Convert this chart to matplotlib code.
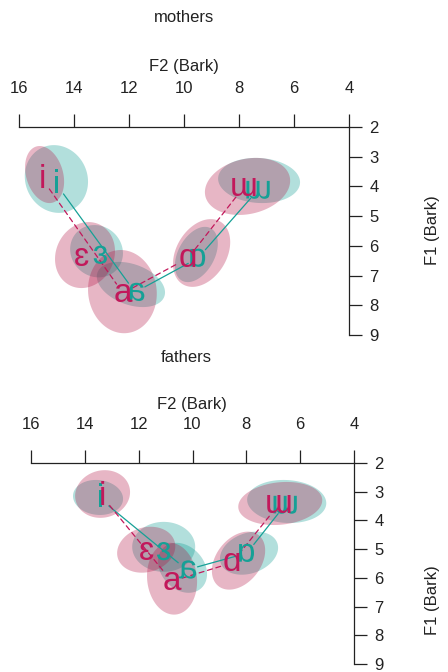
import numpy as np
import matplotlib
matplotlib.use("Agg")
import matplotlib.pyplot as plt
from matplotlib import patheffects
from matplotlib.transforms import Affine2D

plt.rcParams['font.family'] = ['Liberation Sans', 'DejaVu Sans']

# ---------------- data ----------------
vowels = ['i', 'ɛ', 'a', 'ɑ', 'ɯ']
polygon_order = ['i', 'a', 'ɑ', 'ɯ']
x_ticks = [16, 14, 12, 10, 8, 6, 4]
y_ticks = [2, 3, 4, 5, 6, 7, 8, 9]

# mothers: group 1 (magenta) / group 2 (teal)
m1_f2 = [15.13, 13.71, 12.22, 9.85, 7.85]
m1_f1 = [3.78, 6.38, 7.59, 6.41, 4.05]
m2_f2 = [14.62, 13.05, 11.78, 9.49, 7.31]
m2_f1 = [3.95, 6.31, 7.56, 6.41, 4.12]
# ellipses: centre F2, centre F1, half-width F2, half-height F1, correlation
m1_ell_cx = [15.07, 13.60, 12.24, 9.36, 7.69]
m1_ell_cy = [3.60, 6.31, 7.54, 6.24, 4.00]
m1_ell_sx = [0.71, 1.09, 1.25, 1.04, 1.55]
m1_ell_sy = [0.96, 1.11, 1.40, 1.14, 0.96]
m1_ell_r = [-0.25, 0.12, -0.05, 0.32, 0.2]
m2_ell_cx = [14.64, 13.18, 11.93, 9.55, 7.27]
m2_ell_cy = [3.75, 6.18, 7.30, 6.29, 3.80]
m2_ell_sx = [1.15, 0.96, 1.24, 0.78, 1.49]
m2_ell_sy = [1.14, 0.88, 0.76, 0.93, 0.76]
m2_ell_r = [-0.08, -0.08, -0.35, 0.4, -0.08]

# fathers
f1_f2 = [13.34, 11.70, 10.77, 8.54, 6.81]
f1_f1 = [3.18, 5.08, 6.12, 5.48, 3.46]
f2_f2 = [13.43, 11.08, 10.21, 7.98, 6.56]
f2_f1 = [3.25, 5.08, 5.72, 5.14, 3.46]
f1_ell_cx = [13.34, 11.72, 10.76, 8.29, 6.74]
f1_ell_cy = [3.08, 5.02, 6.03, 5.40, 3.41]
f1_ell_sx = [1.02, 1.08, 0.93, 0.99, 1.56]
f1_ell_sy = [0.83, 0.80, 1.25, 1.01, 0.75]
f1_ell_r = [0.08, 0.15, -0.08, 0.35, 0.15]
f2_ell_cx = [13.51, 11.07, 10.37, 7.90, 6.50]
f2_ell_cy = [3.20, 4.92, 5.65, 5.14, 3.34]
f2_ell_sx = [0.93, 1.17, 0.91, 1.08, 1.47]
f2_ell_sy = [0.61, 0.87, 0.87, 0.75, 0.75]
f2_ell_r = [-0.08, 0.0, -0.25, 0.25, -0.08]

PINK = '#C2185B'
TEAL = '#16A096'
PINK_FILL = '#B20F41'
TEAL_FILL = '#00968C'


class Mirror(patheffects.AbstractPathEffect):
    """Mirror glyphs horizontally about their own centre."""
    def draw_path(self, renderer, gc, tpath, affine, rgbFace=None):
        ext = tpath.get_extents(affine)
        cx = 0.5 * (ext.x0 + ext.x1)
        m = affine + Affine2D().translate(-cx, 0).scale(-1, 1).translate(cx, 0)
        renderer.draw_path(gc, tpath, m, rgbFace)


def ellipse(ax, cx, cy, sx, sy, r, color):
    t = np.linspace(0, 2 * np.pi, 240)
    x = cx + sx * np.cos(t)
    y = cy + sy * (r * np.cos(t) + np.sqrt(1 - r * r) * np.sin(t))
    ax.fill(x, y, color=color, alpha=0.3, lw=0, zorder=1, clip_on=False)


def panel(ax, g1, g2):
    ax.set_xlim(16, 4)
    ax.set_ylim(9, 2)
    for s in ['left', 'bottom']:
        ax.spines[s].set_visible(False)
    for s in ['top', 'right']:
        ax.spines[s].set_linewidth(0.9)
        ax.spines[s].set_color('#222222')
    ax.xaxis.tick_top()
    ax.yaxis.tick_right()
    ax.set_xticks(x_ticks)
    ax.set_yticks(y_ticks)
    ax.tick_params(axis='x', direction='out', length=9.5, width=0.9, pad=13,
                   labelsize=12, colors='#222222')
    ax.tick_params(axis='y', direction='out', length=9.5, width=0.9, pad=5,
                   labelsize=12, colors='#222222')
    ax.patch.set_visible(False)

    # ellipses: teal first, magenta on top
    for (f2, f1, ecx, ecy, esx, esy, er, col, fill, ls, mirror) in [g2, g1]:
        for k in range(len(vowels)):
            ellipse(ax, ecx[k], ecy[k], esx[k], esy[k], er[k], fill)
    # polygons
    for (f2, f1, ecx, ecy, esx, esy, er, col, fill, ls, mirror) in [g2, g1]:
        idx = [vowels.index(v) for v in polygon_order]
        for a, b in zip(idx[:-1], idx[1:]):
            ax.annotate('', xy=(f2[b], f1[b]), xytext=(f2[a], f1[a]),
                        arrowprops=dict(arrowstyle='-', color=col, lw=0.9,
                                        ls=ls, shrinkA=8, shrinkB=8),
                        zorder=2)
    # labels
    for (f2, f1, ecx, ecy, esx, esy, er, col, fill, ls, mirror) in [g2, g1]:
        for k, v in enumerate(vowels):
            t = ax.text(f2[k], f1[k], v, color=col, fontsize=24,
                        ha='center', va='center', zorder=3)
            if mirror:
                t.set_path_effects([Mirror()])


fig = plt.figure(figsize=(4.48, 6.72), dpi=100)
ax1 = fig.add_axes([19 / 448, 1 - 335 / 672, 330 / 448, 208 / 672])
ax2 = fig.add_axes([31 / 448, 1 - 664 / 672, 323 / 448, 201 / 672])

panel(ax1,
      (m1_f2, m1_f1, m1_ell_cx, m1_ell_cy, m1_ell_sx, m1_ell_sy, m1_ell_r, PINK, PINK_FILL, (0, (4, 3)), False),
      (m2_f2, m2_f1, m2_ell_cx, m2_ell_cy, m2_ell_sx, m2_ell_sy, m2_ell_r, TEAL, TEAL_FILL, '-', True))
panel(ax2,
      (f1_f2, f1_f1, f1_ell_cx, f1_ell_cy, f1_ell_sx, f1_ell_sy, f1_ell_r, PINK, PINK_FILL, (0, (4, 3)), False),
      (f2_f2, f2_f1, f2_ell_cx, f2_ell_cy, f2_ell_sx, f2_ell_sy, f2_ell_r, TEAL, TEAL_FILL, '-', True))

fig.text(184 / 448, 1 - 18 / 672, 'mothers', ha='center', va='center', fontsize=12, color='#222222')
fig.text(186 / 448, 1 - 357 / 672, 'fathers', ha='center', va='center', fontsize=12, color='#222222')
fig.text(184 / 448, 1 - 67 / 672, 'F2 (Bark)', ha='center', va='center', fontsize=12, color='#222222')
fig.text(192 / 448, 1 - 405 / 672, 'F2 (Bark)', ha='center', va='center', fontsize=12, color='#222222')
fig.text(432 / 448, 1 - 230 / 672, 'F1 (Bark)', ha='center', va='center', fontsize=12,
         rotation=90, color='#222222')
fig.text(432 / 448, 1 - 600 / 672, 'F1 (Bark)', ha='center', va='center', fontsize=12,
         rotation=90, color='#222222')

fig.savefig('out.png', dpi=100)
